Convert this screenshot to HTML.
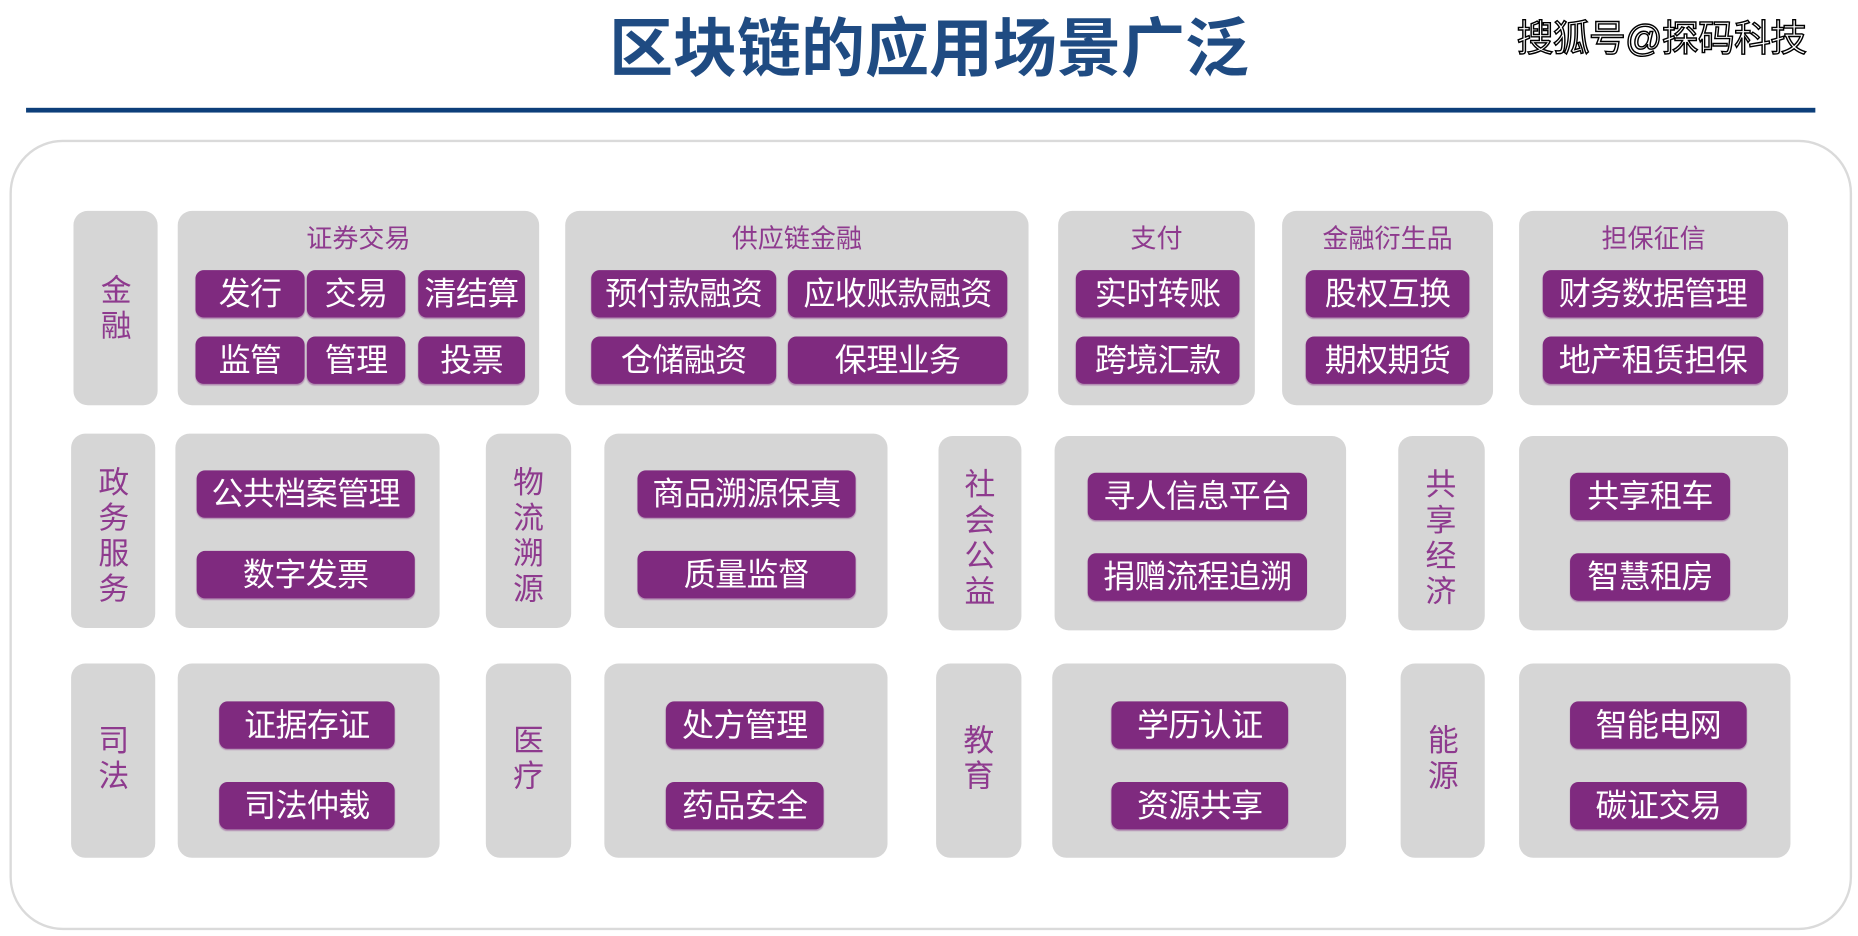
<!DOCTYPE html>
<html><head><meta charset="utf-8"><style>
html,body{margin:0;padding:0;background:#fff;width:1858px;height:936px;overflow:hidden}
#w{position:absolute;left:0;top:0;width:1568px;height:790px;transform:scale(1.18495,1.1848);transform-origin:0 0;font-family:"Liberation Sans","Noto Sans CJK SC",sans-serif}
.a{position:absolute}
.g{position:absolute;background:#d6d6d6;border-radius:12px}
.b{position:absolute;background:#7f2a7f;border-radius:7px;color:#fff;font-size:27px;line-height:40px;text-align:center;white-space:nowrap;box-shadow:0 1px 1px #b08ab0;letter-spacing:-0.5px}
.l{position:absolute;color:#8e3a8e;font-size:26px;line-height:30px;text-align:center;width:30px}
.t{position:absolute;color:#8e3a8e;font-size:22px;text-align:center;line-height:24px}
</style></head><body><div id="w">
<div class="a" style="left:0;width:1568px;top:11px;text-align:center;font-size:54px;font-weight:bold;color:#1f4b82;line-height:62px">区块链的应用场景广泛</div>
<div class="a" style="left:1280px;top:13px;font-size:31px;color:#fff;line-height:40px;-webkit-text-stroke:1.2px #000;letter-spacing:-0.5px">搜狐号@探码科技</div>
<div class="a" style="left:22px;top:91px;width:1510px;height:4px;background:#0d3f7a"></div>
<div class="a" style="left:8px;top:118px;width:1551px;height:663px;border:2px solid #dadada;border-radius:45px"></div>

<!-- row 1 -->
<div class="g" style="left:62px;top:178px;width:71px;height:164px"></div>
<div class="l" style="left:83px;top:230px">金<br>融</div>
<div class="g" style="left:150px;top:178px;width:305px;height:164px"></div>
<div class="t" style="left:150px;width:305px;top:190px">证券交易</div>
<div class="b" style="left:165px;top:228px;width:92px">发行</div>
<div class="b" style="left:259px;top:228px;width:83px">交易</div>
<div class="b" style="left:353px;top:228px;width:90px">清结算</div>
<div class="b" style="left:165px;top:284px;width:92px">监管</div>
<div class="b" style="left:259px;top:284px;width:83px">管理</div>
<div class="b" style="left:353px;top:284px;width:90px">投票</div>

<div class="g" style="left:477px;top:178px;width:391px;height:164px"></div>
<div class="t" style="left:477px;width:391px;top:190px">供应链金融</div>
<div class="b" style="left:499px;top:228px;width:156px">预付款融资</div>
<div class="b" style="left:665px;top:228px;width:185px">应收账款融资</div>
<div class="b" style="left:499px;top:284px;width:156px">仓储融资</div>
<div class="b" style="left:665px;top:284px;width:185px">保理业务</div>

<div class="g" style="left:893px;top:178px;width:166px;height:164px"></div>
<div class="t" style="left:893px;width:166px;top:190px">支付</div>
<div class="b" style="left:908px;top:228px;width:138px">实时转账</div>
<div class="b" style="left:908px;top:284px;width:138px">跨境汇款</div>

<div class="g" style="left:1082px;top:178px;width:178px;height:164px"></div>
<div class="t" style="left:1082px;width:178px;top:190px">金融衍生品</div>
<div class="b" style="left:1102px;top:228px;width:138px">股权互换</div>
<div class="b" style="left:1102px;top:284px;width:138px">期权期货</div>

<div class="g" style="left:1282px;top:178px;width:227px;height:164px"></div>
<div class="t" style="left:1282px;width:227px;top:190px">担保征信</div>
<div class="b" style="left:1302px;top:228px;width:186px">财务数据管理</div>
<div class="b" style="left:1302px;top:284px;width:186px">地产租赁担保</div>

<!-- row 2 -->
<div class="g" style="left:60px;top:366px;width:71px;height:164px"></div>
<div class="l" style="left:81px;top:392px">政<br>务<br>服<br>务</div>
<div class="g" style="left:148px;top:366px;width:223px;height:164px"></div>
<div class="b" style="left:166px;top:397px;width:184px">公共档案管理</div>
<div class="b" style="left:166px;top:465px;width:184px">数字发票</div>

<div class="g" style="left:410px;top:366px;width:72px;height:164px"></div>
<div class="l" style="left:431px;top:392px">物<br>流<br>溯<br>源</div>
<div class="g" style="left:510px;top:366px;width:239px;height:164px"></div>
<div class="b" style="left:538px;top:397px;width:184px">商品溯源保真</div>
<div class="b" style="left:538px;top:465px;width:184px">质量监督</div>

<div class="g" style="left:792px;top:368px;width:70px;height:164px"></div>
<div class="l" style="left:812px;top:394px">社<br>会<br>公<br>益</div>
<div class="g" style="left:890px;top:368px;width:246px;height:164px"></div>
<div class="b" style="left:918px;top:399px;width:185px">寻人信息平台</div>
<div class="b" style="left:918px;top:467px;width:185px">捐赠流程追溯</div>

<div class="g" style="left:1180px;top:368px;width:73px;height:164px"></div>
<div class="l" style="left:1201px;top:394px">共<br>享<br>经<br>济</div>
<div class="g" style="left:1282px;top:368px;width:227px;height:164px"></div>
<div class="b" style="left:1325px;top:399px;width:135px">共享租车</div>
<div class="b" style="left:1325px;top:467px;width:135px">智慧租房</div>

<!-- row 3 -->
<div class="g" style="left:60px;top:560px;width:71px;height:164px"></div>
<div class="l" style="left:81px;top:610px">司<br>法</div>
<div class="g" style="left:150px;top:560px;width:221px;height:164px"></div>
<div class="b" style="left:185px;top:592px;width:148px">证据存证</div>
<div class="b" style="left:185px;top:660px;width:148px">司法仲裁</div>

<div class="g" style="left:410px;top:560px;width:72px;height:164px"></div>
<div class="l" style="left:431px;top:610px">医<br>疗</div>
<div class="g" style="left:510px;top:560px;width:239px;height:164px"></div>
<div class="b" style="left:562px;top:592px;width:133px">处方管理</div>
<div class="b" style="left:562px;top:660px;width:133px">药品安全</div>

<div class="g" style="left:790px;top:560px;width:72px;height:164px"></div>
<div class="l" style="left:811px;top:610px">教<br>育</div>
<div class="g" style="left:888px;top:560px;width:248px;height:164px"></div>
<div class="b" style="left:938px;top:592px;width:149px">学历认证</div>
<div class="b" style="left:938px;top:660px;width:149px">资源共享</div>

<div class="g" style="left:1182px;top:560px;width:71px;height:164px"></div>
<div class="l" style="left:1203px;top:610px">能<br>源</div>
<div class="g" style="left:1282px;top:560px;width:229px;height:164px"></div>
<div class="b" style="left:1325px;top:592px;width:149px">智能电网</div>
<div class="b" style="left:1325px;top:660px;width:149px">碳证交易</div>
</div></body></html>
